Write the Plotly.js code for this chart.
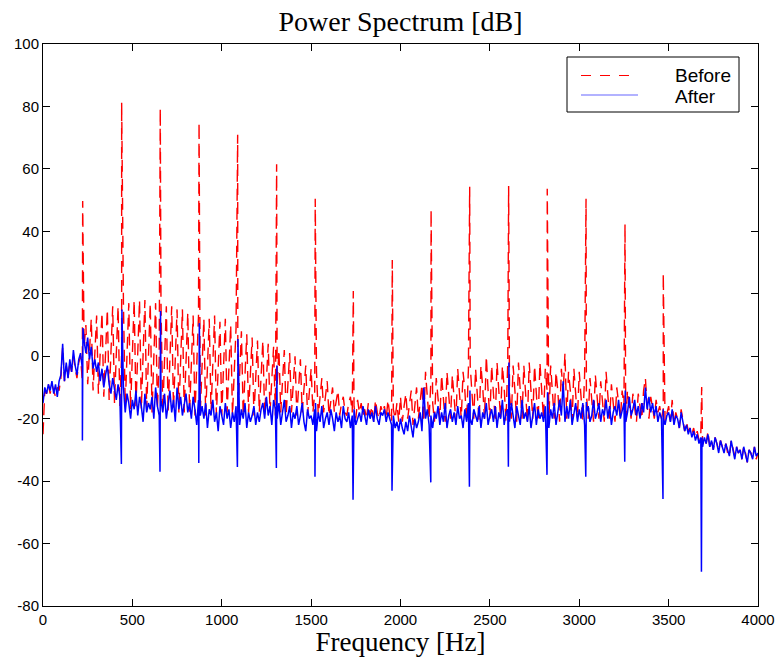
<!DOCTYPE html>
<html><head><meta charset="utf-8">
<script src="https://cdn.plot.ly/plotly-3.0.1.min.js"></script>
<style>html,body{margin:0;padding:0;background:#fff;}#chart{width:777px;height:657px;}</style>
</head><body><div id="chart"></div>
<script>
// Frequency bin spacing of the sampled spectra (Hz)
const binHz = 10;

// "After" spectrum (dB), one value per bin from 0 Hz to 4000 Hz
const afterDb = [
  -15,-10,-12,-9,-11,-8,-12,-9,-13,-8,
  -6,4,-8,-2,-7,-1,-5,2,-3,-6,
  -1,1,-4,5,1,6,-1,3,-4,-1,
  -5,-2,-8,-4,-10,-6,-3,-9,-12,-7,
  -11,-14,-9,-13,-16,-10,-18,-12,-15,-20,
  -14,-17,-11,-19,-13,-16,-21,-12,-18,-15,
  -17,-13,-20,-10,-16,-19,-14,-18,-12,-20,
  -15,-11,-18,-14,-21,-10,-17,-13,-19,-16,
  -12,-18,-15,-20,-13,-17,-22,-14,-19,-16,
  -20,-15,-23,-17,-19,-14,-21,-18,-24,-16,
  -19,-22,-15,-20,-17,-23,-18,-21,-16,-19,
  -22,-17,-20,-15,-23,-18,-21,-19,-16,-22,
  -18,-21,-17,-15,-20,-13,-19,-16,-22,-14,
  -17,-20,-15,-22,-18,-14,-21,-19,-16,-23,
  -18,-20,-16,-22,-19,-15,-21,-24,-17,-20,
  -19,-22,-17,-24,-18,-21,-16,-23,-20,-18,
  -22,-17,-20,-24,-18,-21,-19,-23,-16,-20,
  -21,-18,-23,-19,-17,-22,-20,-18,-21,-16,
  -19,-22,-17,-20,-18,-21,-16,-20,-22,-18,
  -19,-17,-21,-18,-20,-22,-19,-23,-21,-24,
  -20,-23,-25,-21,-24,-19,-22,-26,-20,-23,
  -21,-18,-24,-10,-20,-17,-22,-19,-23,-18,
  -20,-16,-22,-18,-21,-15,-23,-19,-17,-21,
  -18,-22,-16,-20,-19,-23,-17,-21,-15,-20,
  -22,-17,-19,-21,-16,-23,-18,-20,-15,-22,
  -19,-17,-21,-16,-23,-18,-20,-14,-22,-18,
  -17,-21,-15,-20,-23,-16,-19,-22,-14,-20,
  -18,-21,-16,-23,-19,-15,-22,-17,-20,-18,
  -21,-16,-19,-23,-17,-20,-15,-22,-18,-14,
  -19,-8,-21,-16,-20,-14,-22,-18,-15,-21,
  -17,-20,-15,-22,-18,-16,-21,-19,-14,-20,
  -18,-15,-21,-17,-19,-14,-20,-16,-22,-18,
  -16,-19,-14,-20,-17,-15,-21,-18,-13,-19,
  -17,-14,-19,-16,-20,-15,-18,-10,-17,-13,
  -18,-15,-19,-16,-21,-18,-20,-17,-22,-19,
  -18,-21,-17,-22,-19,-20,-23,-18,-21,-24,
  -22,-25,-23,-26,-24,-27,-25,-28,-26,-29,
  -26,-28,-25,-29,-27,-30,-26,-28,-31,-27,
  -29,-31,-28,-30,-32,-27,-30,-33,-29,-31,
  -30,-33,-29,-32,-34,-30,-31,-33,-29,-32,
  -31
];

// "Before" spectrum (dB), one value per bin from 0 Hz to 4000 Hz
const beforeDb = [
  -25,-11,-12,-9,-12,-9,-11,-13,-10,-11,
  -7,3,-8,-3,-7,-2,-5,0,-4,-7,
  -2,0,-8,3,10,-9,2,12,-11,1,
  13,-12,0,14,-13,2,15,-14,1,16,
  -15,2,16,-16,1,17,-16,0,17,-17,
  1,18,-16,-1,18,-17,2,18,-17,0,
  17,-18,1,17,-17,-1,17,-18,0,16,
  -18,-1,16,-17,0,15,-18,-2,15,-18,
  -1,14,-18,-3,13,-19,-2,13,-18,-3,
  12,-19,-4,12,-18,-3,13,-19,-4,11,
  -19,-4,12,-18,-5,10,-19,-5,9,-18,
  -6,8,-19,-6,7,-18,-7,6,-19,-7,
  5,-18,-8,5,-19,-8,4,-18,-8,3,
  -19,-9,2,-18,-9,2,-19,-10,1,-18,
  -10,0,-19,-11,-1,-18,-11,-3,-19,-12,
  -4,-18,-12,-5,-19,-13,-7,-18,-13,-8,
  -19,-14,-10,-18,-14,-11,-19,-15,-13,-18,
  -19,-15,-13,-18,-16,-20,-14,-18,-15,-19,
  -17,-20,-15,-19,-16,-21,-14,-18,-20,-16,
  -18,-16,-20,-14,-19,-21,-17,-20,-15,-21,
  -13,-21,-16,-12,-20,-15,-11,-22,-16,-10,
  -20,-14,-9,-21,-5,-13,-20,-8,-15,-21,
  -7,-14,-20,-6,-13,-21,-5,-12,-20,-6,
  -13,-21,-4,-12,-20,-5,-11,-21,-4,-3,
  -12,-20,-4,-11,-21,-3,-10,-20,0,-11,
  -20,-3,-12,-21,-2,-11,-20,-3,-10,-21,
  -2,-12,-20,-3,-11,-21,-2,-10,-20,-3,
  -12,-21,-2,-11,-20,-3,-12,-21,-2,-10,
  -20,-4,-11,-21,-3,-12,-20,-5,-11,-21,
  -4,-12,1,-20,-5,-11,-21,-4,-12,-20,
  -5,-13,-21,-6,-12,-20,-7,-14,-21,-6,
  -13,-20,-8,-14,-21,-5,-13,-20,-9,-15,
  -21,-10,-15,-20,-11,-16,-21,-11,-15,-20,
  -12,-17,-21,-12,-16,-20,-11,-7,-16,-20,
  -13,-17,-20,-14,-18,-16,-20,-17,-21,-18,
  -16,-21,-14,-22,-18,-20,-23,-17,-21,-24,
  -21,-24,-23,-25,-23,-26,-24,-27,-25,-28,
  -26,-28,-24,-29,-27,-30,-26,-28,-30,-27,
  -29,-30,-28,-31,-32,-27,-30,-32,-29,-31,
  -30,-33,-29,-31,-34,-30,-31,-33,-29,-33,
  -31
];

// Harmonic lines (Hz) and their levels (dB)
const harmonicHz   = [222, 440, 656, 873, 1089, 1307, 1523, 1736, 1954, 2171, 2387, 2605, 2821, 3038, 3256, 3470, 3685];
const beforePeakDb = [49.7, 81.3, 79.4, 74.9, 70.9, 61.5, 50.4, 20.9, 30.8, 47.0, 54.3, 54.5, 53.6, 50.4, 42.3, 26.6, -9.9];
const afterPeakDb  = [9, 15, 14.5, 10.6, 5.5, -3, -15, null, null, null, -11, -2, -11.5, -14.7, -11, -20, -26];
const afterNotchDb = [-27, -34.5, -37, -34.2, -35.5, -35.8, -38.6, -46, -43.1, -40.4, -41.8, -35.4, -38, -38.6, -33.8, -45.7, -69];

// Axis ticks
const xTickVals = [0, 500, 1000, 1500, 2000, 2500, 3000, 3500, 4000];
const xTickText = ['0', '500', '1000', '1500', '2000', '2500', '3000', '3500', '4000'];
const yTickVals = [-80, -60, -40, -20, 0, 20, 40, 60, 80, 100];
const yTickText = ['-80', '-60', '-40', '-20', '0', '20', '40', '60', '80', '100'];

// Legend labels
const seriesNames = ['Before', 'After'];

function buildSeries(baseDb, extras) {
  const pts = baseDb.map((v, i) => [i * binHz, v]);
  extras.forEach(p => { if (p[1] !== null) pts.push(p); });
  pts.sort((a, b) => a[0] - b[0]);
  return { x: pts.map(p => p[0]), y: pts.map(p => p[1]) };
}

const beforeExtras = harmonicHz.map((h, k) => [h, beforePeakDb[k]]);
const afterExtras = [];
harmonicHz.forEach((h, k) => {
  afterExtras.push([h - 1.5, afterNotchDb[k]]);
  afterExtras.push([h + 1.5, afterPeakDb[k]]);
});

const before = buildSeries(beforeDb, beforeExtras);
const after = buildSeries(afterDb, afterExtras);

const serif = 'Liberation Serif, Times New Roman, serif';
const sans = 'Liberation Sans, Arial, sans-serif';
const red = '#ff0000', blue = '#0000ff';

const traces = [
  { type: 'scatter', mode: 'lines', name: seriesNames[0], x: before.x, y: before.y,
    line: { color: red, width: 1.4, dash: '12px,7px' } },
  { type: 'scatter', mode: 'lines', name: seriesNames[1], x: after.x, y: after.y,
    line: { color: blue, width: 1.5 } }
];

// Legend box placement (pixel positions converted to paper fractions)
const M = { l: 43, r: 19, t: 44, b: 51 };
const plotW = 777 - M.l - M.r, plotH = 657 - M.t - M.b;
const px = v => (v - M.l) / plotW;
const py = v => (657 - M.b - v) / plotH;

const shapes = [
  { type: 'rect', xref: 'paper', yref: 'paper', x0: px(567), x1: px(739), y0: py(112), y1: py(57),
    line: { color: '#000', width: 1 }, fillcolor: '#fff', layer: 'above' },
  { type: 'line', xref: 'paper', yref: 'paper', x0: px(581), x1: px(630), y0: py(75.5), y1: py(75.5),
    line: { color: red, width: 1, dash: '10px,9px' }, layer: 'above' },
  { type: 'line', xref: 'paper', yref: 'paper', x0: px(581), x1: px(638), y0: py(95), y1: py(95),
    line: { color: blue, width: 1 }, opacity: 0.6, layer: 'above' }
];

const annotations = [
  { xref: 'paper', yref: 'paper', x: px(673), y: py(75), xanchor: 'left', yanchor: 'middle',
    text: seriesNames[0], showarrow: false, font: { family: sans, size: 19, color: '#000' } },
  { xref: 'paper', yref: 'paper', x: px(673), y: py(96), xanchor: 'left', yanchor: 'middle',
    text: seriesNames[1], showarrow: false, font: { family: sans, size: 19, color: '#000' } }
];

const axisCommon = {
  showline: true, linecolor: '#000', linewidth: 1, mirror: 'ticks',
  ticks: 'inside', ticklen: 7, tickcolor: '#000', tickwidth: 1,
  showgrid: false, zeroline: false,
  tickfont: { family: sans, size: 15, color: '#000' }
};

const layout = {
  width: 777, height: 657,
  paper_bgcolor: '#fff', plot_bgcolor: '#fff',
  margin: M,
  title: { text: 'Power Spectrum [dB]', font: { family: serif, size: 28, color: '#000' },
           x: 0.5155, xanchor: 'center', y: 0.967, yanchor: 'middle', yref: 'container' },
  xaxis: Object.assign({}, axisCommon, {
    range: [0, 4000], tickmode: 'array', tickvals: xTickVals, ticktext: xTickText,
    title: { text: 'Frequency [Hz]', font: { family: serif, size: 27, color: '#000' }, standoff: 2 }
  }),
  yaxis: Object.assign({}, axisCommon, {
    range: [-80, 100], tickmode: 'array', tickvals: yTickVals, ticktext: yTickText
  }),
  showlegend: false,
  shapes: shapes,
  annotations: annotations
};

Plotly.newPlot('chart', traces, layout, { staticPlot: true, displayModeBar: false });
</script>
</body></html>
